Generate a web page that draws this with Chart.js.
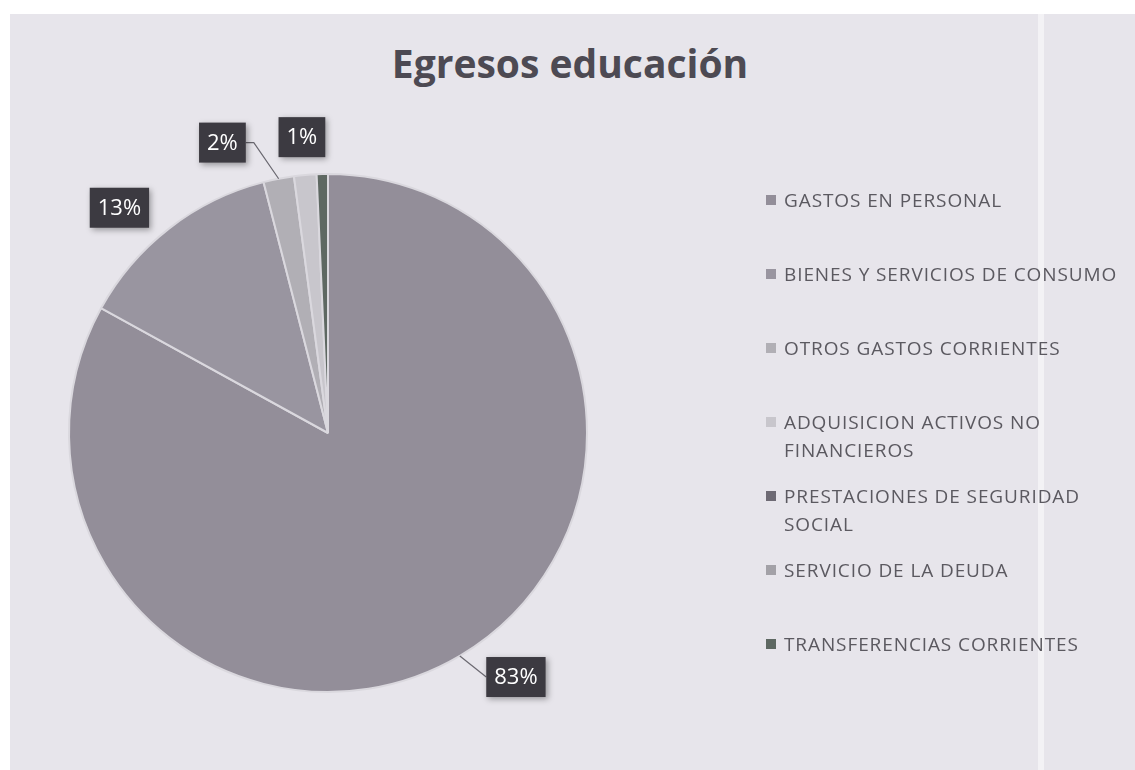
<!DOCTYPE html>
<html><head><meta charset="utf-8">
<script src="https://cdn.jsdelivr.net/npm/chart.js@4.4.1/dist/chart.umd.min.js"></script>
<style>
html,body{margin:0;padding:0;background:#fff;width:1135px;height:770px;overflow:hidden;font-family:"Open Sans",sans-serif;}
#bg{position:absolute;left:10px;top:14px;width:1125px;height:756px;background:#e7e5eb;}
#strip{position:absolute;left:1038px;top:14px;width:6px;height:756px;background:rgba(255,255,255,0.5);}
#title{position:absolute;left:0;width:1140px;top:40px;text-align:center;font-weight:700;font-size:39px;line-height:46px;color:#4d4a53;margin:0;}
canvas{position:absolute;left:0;top:0;}
#legend{position:absolute;left:766px;top:186px;width:362px;}
.item{height:74px;display:flex;align-items:flex-start;font-size:19px;letter-spacing:0.9px;line-height:28px;color:#5b5960;}
.item span:last-child{max-width:342px;}
.sw{width:10px;height:10px;margin-top:9px;margin-right:8px;flex:none;}
</style></head>
<body>
<div id="bg"></div>
<div id="strip"></div>
<h1 id="title">Egresos educación</h1>
<canvas id="c" width="1135" height="770"></canvas>
<div id="legend"></div>
<script>
const categories = ["GASTOS EN PERSONAL","BIENES Y SERVICIOS DE CONSUMO","OTROS GASTOS CORRIENTES","ADQUISICION ACTIVOS NO FINANCIEROS","PRESTACIONES DE SEGURIDAD SOCIAL","SERVICIO DE LA DEUDA","TRANSFERENCIAS CORRIENTES"];
const shares = [83.0, 13.0, 1.9, 1.4, 0, 0, 0.7];
const sliceColors = ["#938e99","#9995a0","#b1afb5","#c8c6cc","#6e6a74","#a3a1a7","#5e6862"];

// legend (HTML, real text)
const lg = document.getElementById('legend');
categories.forEach((name, i) => {
  const it = document.createElement('div'); it.className = 'item';
  const sw = document.createElement('span'); sw.className = 'sw'; sw.style.background = sliceColors[i];
  const tx = document.createElement('span'); tx.textContent = name;
  it.appendChild(sw); it.appendChild(tx); lg.appendChild(it);
});

const labelPlugin = {
  id: 'pctLabels',
  afterDatasetsDraw(chart, args, opts) {
    const ctx = chart.ctx;
    const meta = chart.getDatasetMeta(0);
    const data = chart.data.datasets[0].data;
    const total = data.reduce((a, b) => a + b, 0);
    meta.data.forEach((arc, i) => {
      const v = data[i];
      if (v < 1) return;
      const p = arc.getProps(['x','y','startAngle','endAngle','outerRadius'], true);
      const mid = (p.startAngle + p.endAngle) / 2;
      const a = mid + (opts.nudge[i] || 0) * Math.PI / 180;
      const r = p.outerRadius + (opts.dist[i] || 45);
      const cx = p.x + Math.cos(a) * r, cy = p.y + Math.sin(a) * r;
      const txt = Math.round(v / total * 100) + '%';
      ctx.save();
      ctx.font = '22px "Open Sans"';
      const w = ctx.measureText(txt).width + 16, h = 40;
      const ax = p.x + Math.cos(mid) * p.outerRadius, ay = p.y + Math.sin(mid) * p.outerRadius;
      if (opts.leader[i]) {
        ctx.strokeStyle = '#6a6870'; ctx.lineWidth = 1.2;
        ctx.beginPath();
        if (cx > ax) { ctx.moveTo(cx - w/2, cy); ctx.lineTo(ax, ay); }
        else { ctx.moveTo(cx + w/2, cy); ctx.lineTo(cx + w/2 + 8, cy); ctx.lineTo(ax, ay); }
        ctx.stroke();
      }
      ctx.shadowColor = 'rgba(0,0,0,0.35)'; ctx.shadowBlur = 6; ctx.shadowOffsetX = 2; ctx.shadowOffsetY = 2;
      ctx.fillStyle = '#3c3a41';
      ctx.fillRect(cx - w/2, cy - h/2, w, h);
      ctx.shadowColor = 'transparent';
      ctx.fillStyle = '#ffffff'; ctx.textAlign = 'center'; ctx.textBaseline = 'middle';
      ctx.fillText(txt, cx, cy + 1);
      ctx.restore();
    });
  }
};

new Chart(document.getElementById('c'), {
  type: 'pie',
  data: { labels: categories, datasets: [{ data: shares, backgroundColor: sliceColors, borderColor: '#dad8de', borderWidth: 2 }] },
  options: {
    responsive: false, animation: false,
    layout: { padding: { left: 68, right: 547, top: 173, bottom: 77 } },
    plugins: {
      legend: { display: false }, tooltip: { enabled: false }, title: { display: false },
      pctLabels: { nudge: [-7, -5, -9, 0], dist: [49, 48, 50, 38], leader: [true, false, true, false] }
    }
  },
  plugins: [labelPlugin]
});
</script>
</body></html>
